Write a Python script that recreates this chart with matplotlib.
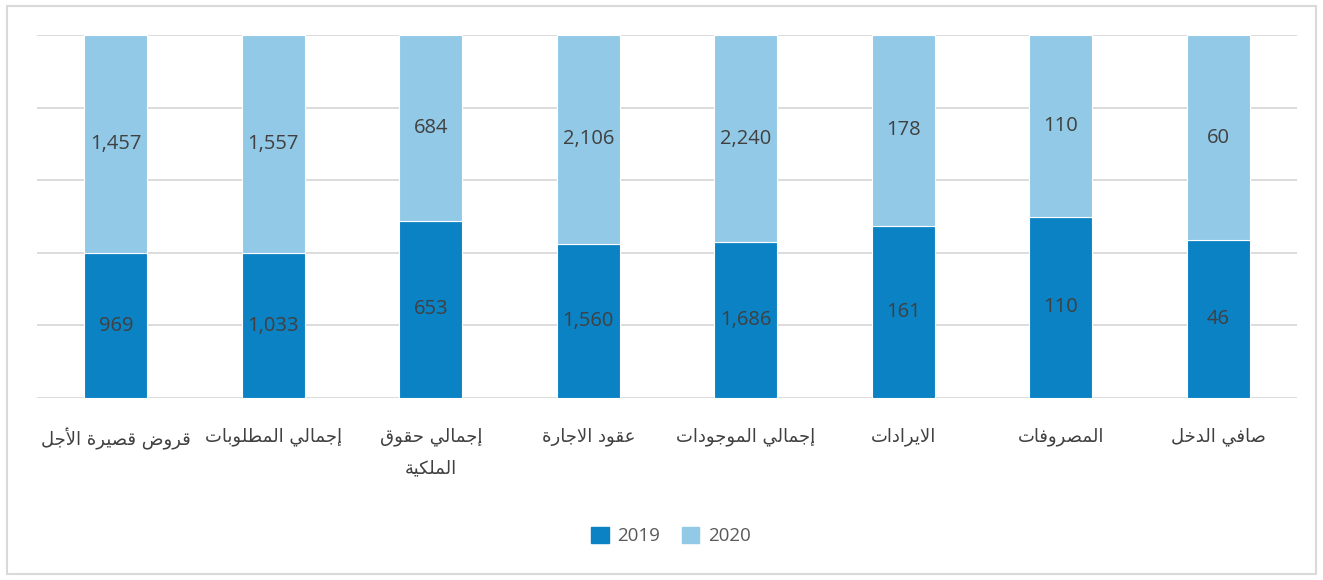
import matplotlib
matplotlib.use("Agg")
import matplotlib.pyplot as plt
from matplotlib.patches import Rectangle
import numpy as np

# data
categories = ["قروض قصيرة الأجل", "إجمالي المطلوبات", "إجمالي حقوق\nالملكية",
              "عقود الاجارة", "إجمالي الموجودات", "الايرادات", "المصروفات", "صافي الدخل"]
vals_2019 = [969, 1033, 653, 1560, 1686, 161, 110, 46]
vals_2020 = [1457, 1557, 684, 2106, 2240, 178, 110, 60]
series_names = ["2019", "2020"]
colors = ["#0A82C4", "#91C9E7"]

# minimal arabic shaping (matplotlib has no shaping / bidi)
FORMS = {  # isolated, final, initial, medial
    "ا": ("\uFE8D", "\uFE8E"), "أ": ("\uFE83", "\uFE84"), "إ": ("\uFE87", "\uFE88"),
    "د": ("\uFEA9", "\uFEAA"), "ر": ("\uFEAD", "\uFEAE"), "و": ("\uFEED", "\uFEEE"),
    "ة": ("\uFE93", "\uFE94"),
    "ب": ("\uFE8F", "\uFE90", "\uFE91", "\uFE92"), "ت": ("\uFE95", "\uFE96", "\uFE97", "\uFE98"),
    "ج": ("\uFE9D", "\uFE9E", "\uFE9F", "\uFEA0"), "ح": ("\uFEA1", "\uFEA2", "\uFEA3", "\uFEA4"),
    "خ": ("\uFEA5", "\uFEA6", "\uFEA7", "\uFEA8"), "س": ("\uFEB1", "\uFEB2", "\uFEB3", "\uFEB4"),
    "ص": ("\uFEB9", "\uFEBA", "\uFEBB", "\uFEBC"), "ض": ("\uFEBD", "\uFEBE", "\uFEBF", "\uFEC0"),
    "ط": ("\uFEC1", "\uFEC2", "\uFEC3", "\uFEC4"), "ع": ("\uFEC9", "\uFECA", "\uFECB", "\uFECC"),
    "ف": ("\uFED1", "\uFED2", "\uFED3", "\uFED4"), "ق": ("\uFED5", "\uFED6", "\uFED7", "\uFED8"),
    "ك": ("\uFED9", "\uFEDA", "\uFEDB", "\uFEDC"), "ل": ("\uFEDD", "\uFEDE", "\uFEDF", "\uFEE0"),
    "م": ("\uFEE1", "\uFEE2", "\uFEE3", "\uFEE4"), "ي": ("\uFEF1", "\uFEF2", "\uFEF3", "\uFEF4"),
    "لا": ("\uFEFB", "\uFEFC"), "لأ": ("\uFEF7", "\uFEF8"), "لإ": ("\uFEF9", "\uFEFA"),
}


def shape_word(word):
    toks = []
    i = 0
    while i < len(word):
        if word[i] == "ل" and i + 1 < len(word) and word[i:i + 2] in FORMS:
            toks.append(word[i:i + 2])
            i += 2
        else:
            toks.append(word[i])
            i += 1
    out = []
    for k, t in enumerate(toks):
        f = FORMS.get(t)
        if f is None:
            out.append(t)
            continue
        prev = toks[k - 1] if k > 0 else None
        nxt = toks[k + 1] if k + 1 < len(toks) else None
        jp = prev is not None and prev in FORMS and len(FORMS[prev]) == 4
        jn = nxt is not None and nxt in FORMS and len(f) == 4
        if jp and jn:
            out.append(f[3])
        elif jp:
            out.append(f[1])
        elif jn:
            out.append(f[2])
        else:
            out.append(f[0])
    return "".join(out)


def ar(text):
    lines = []
    for line in text.split("\n"):
        words = [shape_word(w) for w in line.split(" ")]
        lines.append(" ".join(words)[::-1])
    return "\n".join(lines)


v19 = np.array(vals_2019, dtype=float)
v20 = np.array(vals_2020, dtype=float)
tot = v19 + v20
p19 = v19 / tot * 100
p20 = v20 / tot * 100

fig = plt.figure(figsize=(13.23, 5.8), dpi=100)
fig.patches.append(Rectangle((0.005, 0.01), 0.99, 0.98, transform=fig.transFigure,
                             fill=False, edgecolor="#D9D9D9", linewidth=1.5))
ax = fig.add_axes([37 / 1323, 1 - 398 / 580, 1260 / 1323, 363 / 580])

x = np.arange(len(categories))
ax.bar(x, p19, width=0.4, color=colors[0], edgecolor="white", linewidth=0.8, zorder=3)
ax.bar(x, p20, width=0.4, bottom=p19, color=colors[1], edgecolor="white", linewidth=0.8, zorder=3)

for i in range(len(x)):
    ax.text(x[i], p19[i] / 2, f"{vals_2019[i]:,}", ha="center", va="center",
            fontsize=14.5, color="#404040", family="Open Sans", zorder=4)
    ax.text(x[i], p19[i] + p20[i] / 2, f"{vals_2020[i]:,}", ha="center", va="center",
            fontsize=14.5, color="#404040", family="Open Sans", zorder=4)

ax.set_xlim(-0.5, len(x) - 0.5)
ax.set_ylim(0, 100)
ax.set_yticks([0, 20, 40, 60, 80, 100])
ax.yaxis.grid(True, color="#D9D9D9", linewidth=1.3, zorder=0)
ax.tick_params(axis="y", left=False, labelleft=False)
ax.tick_params(axis="x", bottom=False, pad=18)
ax.set_xticks(x)
ax.set_xticklabels([ar(c) for c in categories], fontsize=13, color="#404040",
                   family="DejaVu Sans", linespacing=1.95, va="top")
for s in ax.spines.values():
    s.set_visible(False)

handles = [Rectangle((0, 0), 1, 1, color=c) for c in colors]
fig.legend(handles, series_names, loc="center", bbox_to_anchor=(0.507, 1 - 536 / 580),
           ncol=2, frameon=False, handlelength=0.95, handleheight=0.95,
           columnspacing=1.15, handletextpad=0.45, labelcolor="#595959",
           prop={"family": "Open Sans", "size": 13.5})

fig.savefig("out.png", dpi=100)
